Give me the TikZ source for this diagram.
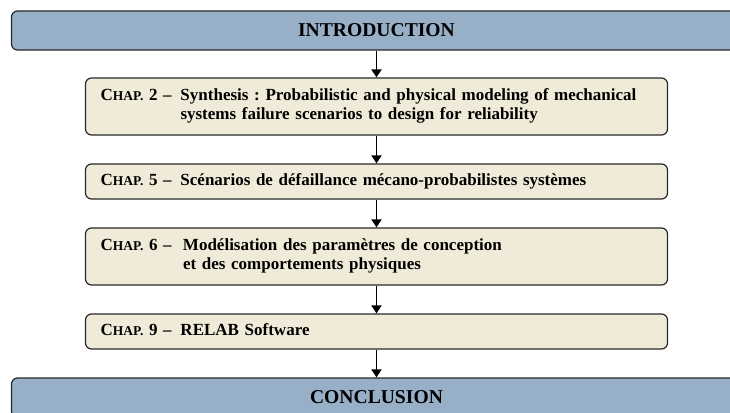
\documentclass[tikz,border=0pt]{standalone}
\usepackage{fontspec}
\setmainfont{Liberation Serif}
\usetikzlibrary{arrows.meta}
\definecolor{endfill}{RGB}{151,176,200}
\definecolor{chapfill}{RGB}{240,235,216}
\definecolor{edgecol}{RGB}{40,40,40}
\newcommand\chapl[1]{C{\fontsize{13.5}{13.5}\selectfont HAP.}~#1~–}
\begin{document}
\frenchspacing
\begin{tikzpicture}[x=1pt,y=-1pt,
  endbox/.style={draw=edgecol, line width=1.2pt, fill=endfill, rounded corners=6pt,
    minimum width=730pt, minimum height=39pt, inner sep=0pt,
    font=\fontsize{19.6}{22}\selectfont\bfseries},
  chapbox/.style={draw=edgecol, line width=1.2pt, fill=chapfill, rounded corners=6pt,
    text width=552pt, inner xsep=15pt, inner ysep=0pt, align=left,
    font=\fontsize{17}{19}\selectfont\bfseries\frenchspacing},
  link/.style={-{Triangle[width=10pt,length=8pt]}, line width=1.8pt, black}]
\clip (0,0) rectangle (730,412);
\node[endbox] (intro) at (376.5,30.5) {INTRODUCTION};
\node[chapbox, minimum height=57pt] (c2) at (376.5,106.5)
  {\begin{tabular}{@{}p{80pt}@{}l@{}}\chapl{2} & Synthesis : Probabilistic and physical modeling of mechanical\\
   & systems failure scenarios to design for reliability\end{tabular}};
\node[chapbox, minimum height=35pt] (c5) at (376.5,181.5)
  {\begin{tabular}{@{}p{80pt}@{}l@{}}\chapl{5} & Scénarios de défaillance mécano-probabilistes systèmes\end{tabular}};
\node[chapbox, minimum height=57pt] (c6) at (376.5,256.5)
  {\begin{tabular}{@{}p{80pt}@{}l@{}}\chapl{6} & \hspace{2.5pt}Modélisation des paramètres de conception\\
   & \hspace{2.5pt}et des comportements physiques\end{tabular}};
\node[chapbox, minimum height=35pt] (c9) at (376.5,331.5)
  {\begin{tabular}{@{}p{80pt}@{}l@{}}\chapl{9} & RELAB Software\end{tabular}};
\node[endbox] (concl) at (376.5,397.5) {CONCLUSION};
\draw[link] (intro) -- (c2);
\draw[link] (c2) -- (c5);
\draw[link] (c5) -- (c6);
\draw[link] (c6) -- (c9);
\draw[link] (c9) -- (concl);
\end{tikzpicture}
\end{document}
